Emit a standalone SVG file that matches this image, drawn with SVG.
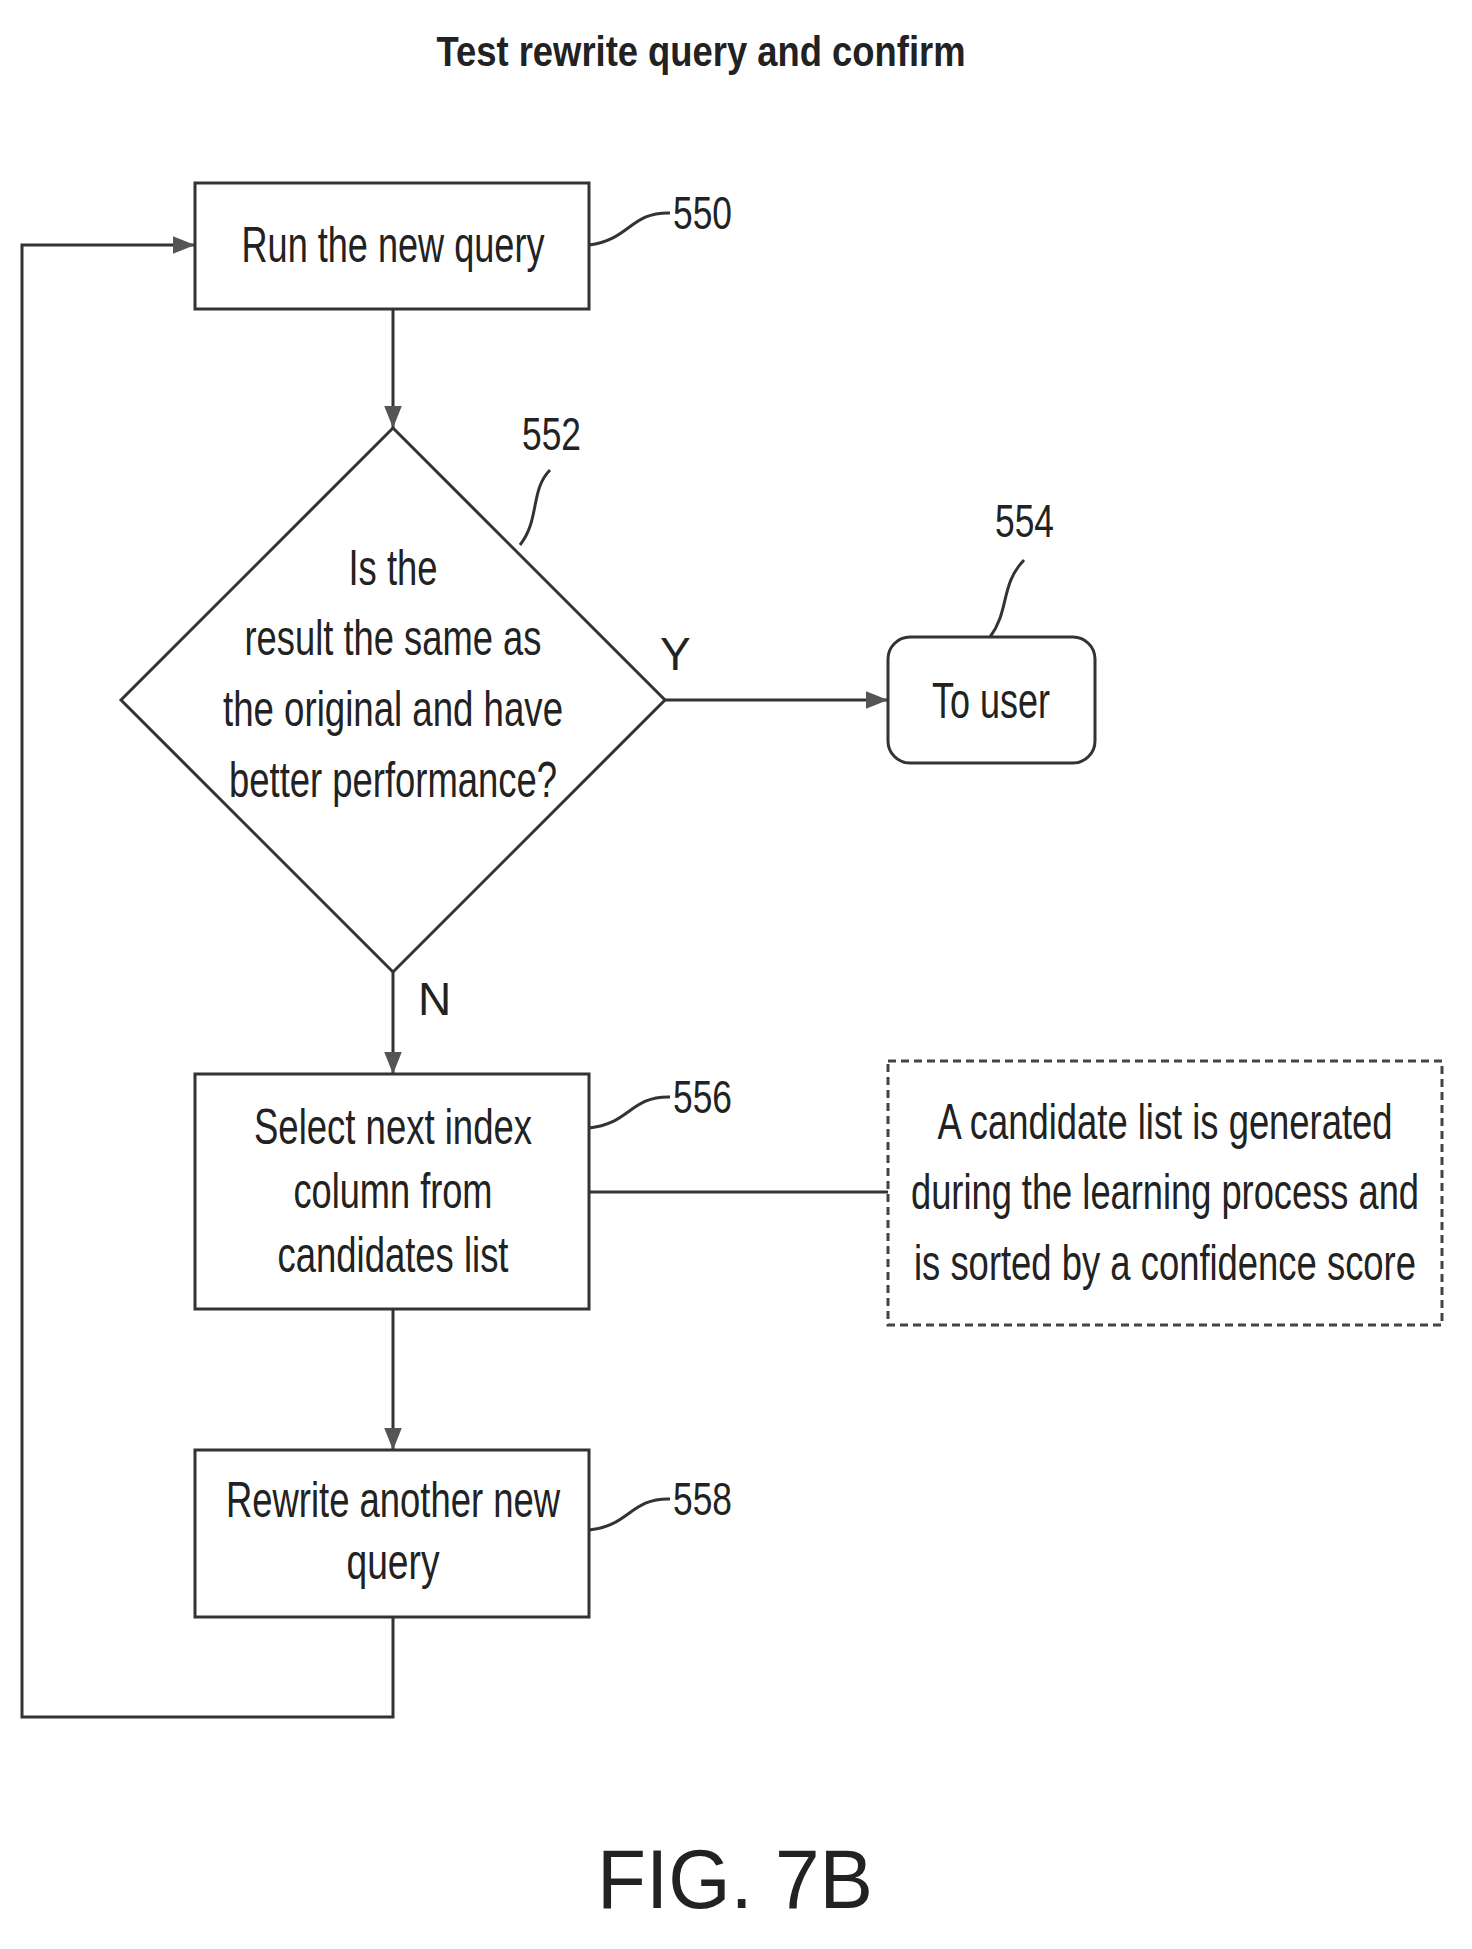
<svg xmlns="http://www.w3.org/2000/svg" width="1472" height="1949" viewBox="0 0 1472 1949">
<style>
.t{font-family:"Liberation Sans",Arial,sans-serif;font-size:50px;fill:#222;text-anchor:middle}
.n{font-family:"Liberation Sans",Arial,sans-serif;font-size:46px;fill:#222}
.s{fill:#fff;stroke:#333;stroke-width:3}
.c{fill:none;stroke:#333;stroke-width:3}
</style>
<defs><marker id="a" viewBox="0 0 10 10" refX="10" refY="5" markerWidth="9" markerHeight="9" markerUnits="userSpaceOnUse" orient="auto"><path d="M0,0L10,5L0,10z" fill="#444"/></marker>
<marker id="b" viewBox="0 0 10 10" refX="10" refY="5" markerWidth="22" markerHeight="22" markerUnits="userSpaceOnUse" orient="auto"><path d="M0,1L10,5L0,9z" fill="#555"/></marker></defs>
<rect width="1472" height="1949" fill="#fff"/>
<text x="701" y="66" class="t" style="font-weight:bold;font-size:42px" textLength="529" lengthAdjust="spacingAndGlyphs">Test rewrite query and confirm</text>
<g id="connectors" class="c">
<path d="M393,309V428" marker-end="url(#b)"/>
<path d="M665,700H888" marker-end="url(#b)"/>
<path d="M393,972V1074" marker-end="url(#b)"/>
<path d="M589,1192H888"/>
<path d="M393,1309V1450" marker-end="url(#b)"/>
<path d="M393,1617V1717H22V245H195" marker-end="url(#b)"/>
<path d="M589,245C630,240 630,212 670,213"/>
<path d="M520,545C540,520 530,490 550,470"/>
<path d="M990,637C1010,610 1000,585 1024,560"/>
<path d="M589,1128C630,1124 630,1096 670,1097"/>
<path d="M589,1530C630,1526 630,1498 670,1499"/>
</g>
<g id="n550"><rect class="s" x="195" y="183" width="394" height="126"/><text class="t" x="393" y="262" textLength="303" lengthAdjust="spacingAndGlyphs">Run the new query</text><text class="n" x="673" y="229" textLength="59" lengthAdjust="spacingAndGlyphs">550</text></g>
<g id="n552"><path class="s" d="M393,428L665,700L393,972L121,700z"/>
<text class="t" x="393" y="585" textLength="89" lengthAdjust="spacingAndGlyphs">Is the</text>
<text class="t" x="393" y="655" textLength="297" lengthAdjust="spacingAndGlyphs">result the same as</text>
<text class="t" x="393" y="726" textLength="340" lengthAdjust="spacingAndGlyphs">the original and have</text>
<text class="t" x="393" y="797" textLength="328" lengthAdjust="spacingAndGlyphs">better performance?</text>
<text class="n" x="522" y="450" textLength="59" lengthAdjust="spacingAndGlyphs">552</text>
<text class="n" x="660" y="670">Y</text><text class="n" x="418" y="1015">N</text></g>
<g id="n554"><rect class="s" x="888" y="637" width="207" height="126" rx="22"/><text class="t" x="991" y="718" textLength="118" lengthAdjust="spacingAndGlyphs">To user</text><text class="n" x="995" y="537" textLength="59" lengthAdjust="spacingAndGlyphs">554</text></g>
<g id="n556"><rect class="s" x="195" y="1074" width="394" height="235"/>
<text class="t" x="393" y="1144" textLength="278" lengthAdjust="spacingAndGlyphs">Select next index</text>
<text class="t" x="393" y="1208" textLength="199" lengthAdjust="spacingAndGlyphs">column from</text>
<text class="t" x="393" y="1272" textLength="231" lengthAdjust="spacingAndGlyphs">candidates list</text>
<text class="n" x="673" y="1113" textLength="59" lengthAdjust="spacingAndGlyphs">556</text></g>
<g id="note"><rect x="888" y="1061" width="554" height="264" fill="#fff" stroke="#444" stroke-width="3" stroke-dasharray="8,5"/>
<text class="t" x="1165" y="1139" textLength="455" lengthAdjust="spacingAndGlyphs">A candidate list is generated</text>
<text class="t" x="1165" y="1209" textLength="508" lengthAdjust="spacingAndGlyphs">during the learning process and</text>
<text class="t" x="1165" y="1280" textLength="502" lengthAdjust="spacingAndGlyphs">is sorted by a confidence score</text></g>
<g id="n558"><rect class="s" x="195" y="1450" width="394" height="167"/>
<text class="t" x="393" y="1517" textLength="334" lengthAdjust="spacingAndGlyphs">Rewrite another new</text>
<text class="t" x="393" y="1579" textLength="93" lengthAdjust="spacingAndGlyphs">query</text>
<text class="n" x="673" y="1515" textLength="59" lengthAdjust="spacingAndGlyphs">558</text></g>
<text class="t" x="735" y="1908" style="font-size:84px" textLength="276" lengthAdjust="spacingAndGlyphs">FIG. 7B</text>
</svg>
